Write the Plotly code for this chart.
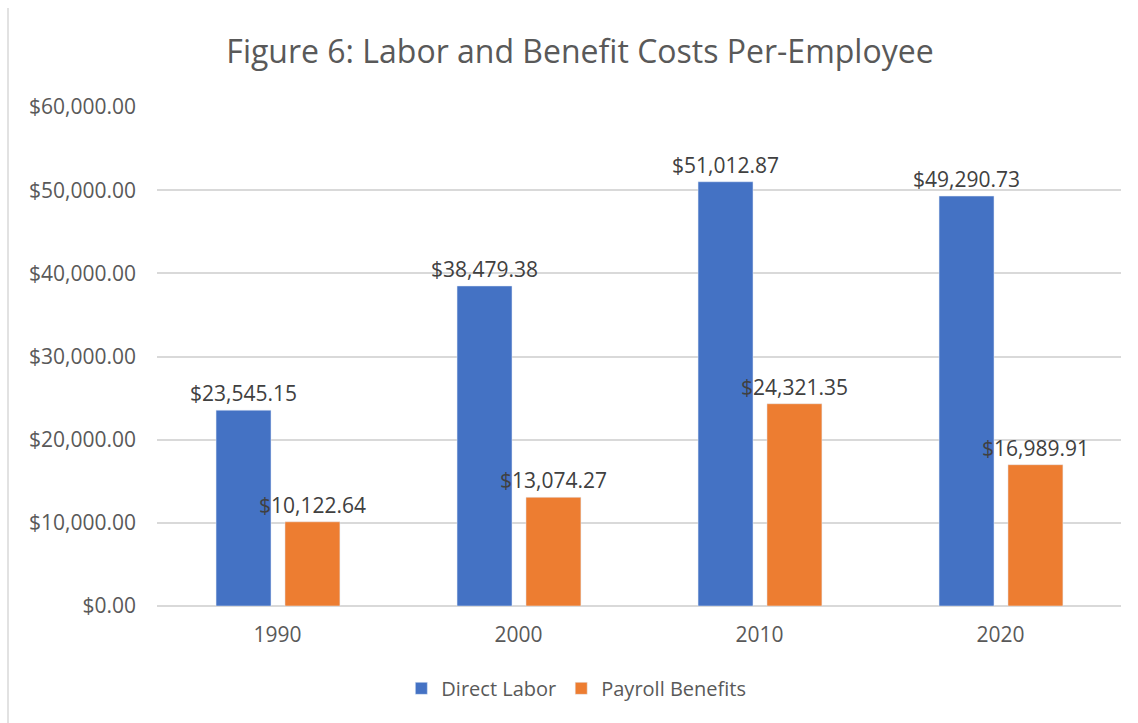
import plotly.graph_objects as go

years = ["1990", "2000", "2010", "2020"]
direct_labor = [23545.15, 38479.38, 51012.87, 49290.73]
payroll_benefits = [10122.64, 13074.27, 24321.35, 16989.91]
ytick_vals = [0, 10000, 20000, 30000, 40000, 50000, 60000]
ytick_text = ["$0.00", "$10,000.00", "$20,000.00", "$30,000.00", "$40,000.00", "$50,000.00", "$60,000.00"]

FONT = "Open Sans"
GRAY = "#595959"

def fmt(v):
    return "${:,.2f}".format(v)

fig = go.Figure()
fig.add_trace(go.Bar(
    x=years, y=direct_labor, name="Direct Labor",
    marker_color="#4472C4", width=0.228, offset=-0.255,
    text=[fmt(v) for v in direct_labor], textposition="outside",
    constraintext="none",
    textfont=dict(family=FONT, size=21, color="#404040"), cliponaxis=False,
))
fig.add_trace(go.Bar(
    x=years, y=payroll_benefits, name="Payroll Benefits",
    marker_color="#ED7D31", width=0.228, offset=0.031,
    text=[fmt(v) for v in payroll_benefits], textposition="outside",
    constraintext="none",
    textfont=dict(family=FONT, size=21, color="#404040"), cliponaxis=False,
))

fig.update_layout(
    width=1138, height=723,
    barmode="overlay",
    paper_bgcolor="white", plot_bgcolor="white",
    margin=dict(l=157, r=17, t=107, b=117),
    font=dict(family=FONT, color=GRAY, size=21),
    title=dict(text="Figure 6: Labor and Benefit Costs Per-Employee",
               x=580/1138, xanchor="center", xref="container", y=0.928, yanchor="middle",
               font=dict(family=FONT, size=32, color=GRAY)),
    legend=dict(orientation="h", x=0.435, xanchor="center", y=-0.165, yanchor="middle",
                font=dict(family=FONT, size=20, color=GRAY), traceorder="normal",
                itemwidth=30),
    showlegend=True,
)
fig.update_yaxes(range=[0, 60000], tickvals=ytick_vals, ticktext=ytick_text,
                 showgrid=True, gridcolor="#D9D9D9", gridwidth=1.5,
                 zeroline=True, zerolinecolor="#D9D9D9", zerolinewidth=1.5,
                 showline=False, ticklabelstandoff=20,
                 tickfont=dict(family=FONT, size=21, color=GRAY))
fig.update_xaxes(showline=False, ticks="", ticklabelstandoff=14,
                 tickfont=dict(family=FONT, size=21, color=GRAY))

fig.add_shape(type="line", xref="paper", yref="paper",
              x0=-149/964, x1=-149/964, y0=-117/499, y1=(499 + 99)/499,
              line=dict(color="#D9D9D9", width=1.5))

fig.write_html("out.html")
